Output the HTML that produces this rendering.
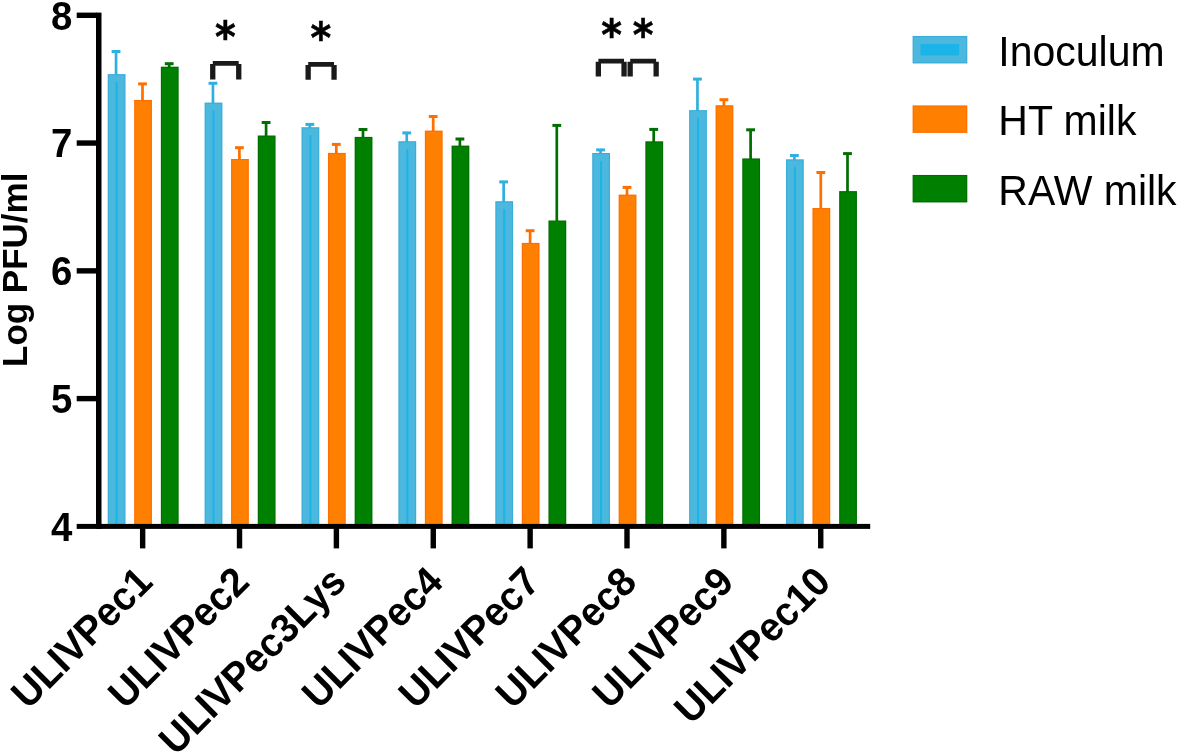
<!DOCTYPE html>
<html lang="en"><head><meta charset="utf-8"><title>Log PFU/ml chart</title>
<style>
html,body{margin:0;padding:0;background:#fff;}
body{width:1181px;height:754px;overflow:hidden;position:relative;}
svg{position:absolute;left:0;top:0;display:block;}
text{font-family:"Liberation Sans",sans-serif;fill:#000;}
.b{font-weight:bold;}
.tick{font-size:38.4px;font-weight:bold;}
.xl{font-size:38.75px;font-weight:bold;}
.yl{font-size:35.0px;font-weight:bold;}
.lg{font-size:41px;}
.star{font-family:"DejaVu Sans","Liberation Sans",sans-serif;font-weight:bold;font-size:39.6px;stroke:#000;stroke-width:0.5px;}
</style></head><body>
<svg width="1181" height="754" viewBox="0 0 1181 754">
<rect x="0" y="0" width="1181" height="754" fill="#ffffff"/>
<g id="bars">
<rect x="114.70" y="51.00" width="2.7" height="24.10" fill="#2fb0e0"/><rect x="111.65" y="50.00" width="8.8" height="3" fill="#2fb0e0"/><rect x="107.70" y="74.10" width="17.80" height="452.30" fill="#39adda"/><rect x="108.90" y="75.30" width="15.40" height="451.10" fill="#4db8de"/><rect x="115.60" y="81.90" width="2" height="444.50" fill="#1bb4e8"/>
<rect x="141.15" y="83.40" width="2.7" height="17.50" fill="#ff6f00"/><rect x="138.10" y="82.40" width="8.8" height="3" fill="#ff6f00"/><rect x="134.15" y="99.90" width="17.80" height="426.50" fill="#ff6f00"/><rect x="135.35" y="101.10" width="15.40" height="425.30" fill="#ff8000"/>
<rect x="167.85" y="63.20" width="2.7" height="4.50" fill="#006e00"/><rect x="164.80" y="62.20" width="8.8" height="3" fill="#006e00"/><rect x="160.85" y="66.70" width="17.80" height="459.70" fill="#006e00"/><rect x="162.05" y="67.90" width="15.40" height="458.50" fill="#008000"/>
<rect x="211.60" y="82.80" width="2.7" height="20.80" fill="#2fb0e0"/><rect x="208.55" y="81.80" width="8.8" height="3" fill="#2fb0e0"/><rect x="204.60" y="102.60" width="17.80" height="423.80" fill="#39adda"/><rect x="205.80" y="103.80" width="15.40" height="422.60" fill="#4db8de"/><rect x="212.50" y="110.40" width="2" height="416.00" fill="#1bb4e8"/>
<rect x="238.05" y="147.20" width="2.7" height="12.80" fill="#ff6f00"/><rect x="235.00" y="146.20" width="8.8" height="3" fill="#ff6f00"/><rect x="231.05" y="159.00" width="17.80" height="367.40" fill="#ff6f00"/><rect x="232.25" y="160.20" width="15.40" height="366.20" fill="#ff8000"/>
<rect x="264.75" y="122.00" width="2.7" height="14.50" fill="#006e00"/><rect x="261.70" y="121.00" width="8.8" height="3" fill="#006e00"/><rect x="257.75" y="135.50" width="17.80" height="390.90" fill="#006e00"/><rect x="258.95" y="136.70" width="15.40" height="389.70" fill="#008000"/>
<rect x="308.50" y="123.90" width="2.7" height="4.30" fill="#2fb0e0"/><rect x="305.45" y="122.90" width="8.8" height="3" fill="#2fb0e0"/><rect x="301.50" y="127.20" width="17.80" height="399.20" fill="#39adda"/><rect x="302.70" y="128.40" width="15.40" height="398.00" fill="#4db8de"/><rect x="309.40" y="135.00" width="2" height="391.40" fill="#1bb4e8"/>
<rect x="334.95" y="143.90" width="2.7" height="10.00" fill="#ff6f00"/><rect x="331.90" y="142.90" width="8.8" height="3" fill="#ff6f00"/><rect x="327.95" y="152.90" width="17.80" height="373.50" fill="#ff6f00"/><rect x="329.15" y="154.10" width="15.40" height="372.30" fill="#ff8000"/>
<rect x="361.65" y="129.00" width="2.7" height="8.90" fill="#006e00"/><rect x="358.60" y="128.00" width="8.8" height="3" fill="#006e00"/><rect x="354.65" y="136.90" width="17.80" height="389.50" fill="#006e00"/><rect x="355.85" y="138.10" width="15.40" height="388.30" fill="#008000"/>
<rect x="405.40" y="132.40" width="2.7" height="9.80" fill="#2fb0e0"/><rect x="402.35" y="131.40" width="8.8" height="3" fill="#2fb0e0"/><rect x="398.40" y="141.20" width="17.80" height="385.20" fill="#39adda"/><rect x="399.60" y="142.40" width="15.40" height="384.00" fill="#4db8de"/><rect x="406.30" y="149.00" width="2" height="377.40" fill="#1bb4e8"/>
<rect x="431.85" y="116.00" width="2.7" height="15.60" fill="#ff6f00"/><rect x="428.80" y="115.00" width="8.8" height="3" fill="#ff6f00"/><rect x="424.85" y="130.60" width="17.80" height="395.80" fill="#ff6f00"/><rect x="426.05" y="131.80" width="15.40" height="394.60" fill="#ff8000"/>
<rect x="458.55" y="138.50" width="2.7" height="8.10" fill="#006e00"/><rect x="455.50" y="137.50" width="8.8" height="3" fill="#006e00"/><rect x="451.55" y="145.60" width="17.80" height="380.80" fill="#006e00"/><rect x="452.75" y="146.80" width="15.40" height="379.60" fill="#008000"/>
<rect x="502.30" y="181.40" width="2.7" height="20.80" fill="#2fb0e0"/><rect x="499.25" y="180.40" width="8.8" height="3" fill="#2fb0e0"/><rect x="495.30" y="201.20" width="17.80" height="325.20" fill="#39adda"/><rect x="496.50" y="202.40" width="15.40" height="324.00" fill="#4db8de"/><rect x="503.20" y="209.00" width="2" height="317.40" fill="#1bb4e8"/>
<rect x="528.75" y="230.20" width="2.7" height="13.70" fill="#ff6f00"/><rect x="525.70" y="229.20" width="8.8" height="3" fill="#ff6f00"/><rect x="521.75" y="242.90" width="17.80" height="283.50" fill="#ff6f00"/><rect x="522.95" y="244.10" width="15.40" height="282.30" fill="#ff8000"/>
<rect x="555.45" y="124.90" width="2.7" height="96.60" fill="#006e00"/><rect x="552.40" y="123.90" width="8.8" height="3" fill="#006e00"/><rect x="548.45" y="220.50" width="17.80" height="305.90" fill="#006e00"/><rect x="549.65" y="221.70" width="15.40" height="304.70" fill="#008000"/>
<rect x="599.20" y="149.40" width="2.7" height="4.60" fill="#2fb0e0"/><rect x="596.15" y="148.40" width="8.8" height="3" fill="#2fb0e0"/><rect x="592.20" y="153.00" width="17.80" height="373.40" fill="#39adda"/><rect x="593.40" y="154.20" width="15.40" height="372.20" fill="#4db8de"/><rect x="600.10" y="160.80" width="2" height="365.60" fill="#1bb4e8"/>
<rect x="625.65" y="186.90" width="2.7" height="8.70" fill="#ff6f00"/><rect x="622.60" y="185.90" width="8.8" height="3" fill="#ff6f00"/><rect x="618.65" y="194.60" width="17.80" height="331.80" fill="#ff6f00"/><rect x="619.85" y="195.80" width="15.40" height="330.60" fill="#ff8000"/>
<rect x="652.35" y="128.90" width="2.7" height="13.40" fill="#006e00"/><rect x="649.30" y="127.90" width="8.8" height="3" fill="#006e00"/><rect x="645.35" y="141.30" width="17.80" height="385.10" fill="#006e00"/><rect x="646.55" y="142.50" width="15.40" height="383.90" fill="#008000"/>
<rect x="696.10" y="78.60" width="2.7" height="32.50" fill="#2fb0e0"/><rect x="693.05" y="77.60" width="8.8" height="3" fill="#2fb0e0"/><rect x="689.10" y="110.10" width="17.80" height="416.30" fill="#39adda"/><rect x="690.30" y="111.30" width="15.40" height="415.10" fill="#4db8de"/><rect x="697.00" y="117.90" width="2" height="408.50" fill="#1bb4e8"/>
<rect x="722.55" y="99.20" width="2.7" height="7.00" fill="#ff6f00"/><rect x="719.50" y="98.20" width="8.8" height="3" fill="#ff6f00"/><rect x="715.55" y="105.20" width="17.80" height="421.20" fill="#ff6f00"/><rect x="716.75" y="106.40" width="15.40" height="420.00" fill="#ff8000"/>
<rect x="749.25" y="129.30" width="2.7" height="30.10" fill="#006e00"/><rect x="746.20" y="128.30" width="8.8" height="3" fill="#006e00"/><rect x="742.25" y="158.40" width="17.80" height="368.00" fill="#006e00"/><rect x="743.45" y="159.60" width="15.40" height="366.80" fill="#008000"/>
<rect x="793.00" y="155.00" width="2.7" height="5.30" fill="#2fb0e0"/><rect x="789.95" y="154.00" width="8.8" height="3" fill="#2fb0e0"/><rect x="786.00" y="159.30" width="17.80" height="367.10" fill="#39adda"/><rect x="787.20" y="160.50" width="15.40" height="365.90" fill="#4db8de"/><rect x="793.90" y="167.10" width="2" height="359.30" fill="#1bb4e8"/>
<rect x="819.45" y="172.00" width="2.7" height="37.00" fill="#ff6f00"/><rect x="816.40" y="171.00" width="8.8" height="3" fill="#ff6f00"/><rect x="812.45" y="208.00" width="17.80" height="318.40" fill="#ff6f00"/><rect x="813.65" y="209.20" width="15.40" height="317.20" fill="#ff8000"/>
<rect x="846.15" y="153.10" width="2.7" height="39.00" fill="#006e00"/><rect x="843.10" y="152.10" width="8.8" height="3" fill="#006e00"/><rect x="839.15" y="191.10" width="17.80" height="335.30" fill="#006e00"/><rect x="840.35" y="192.30" width="15.40" height="334.10" fill="#008000"/>
</g>
<g id="axes" fill="#000">
<rect x="96" y="12.6" width="5.5" height="516.3"/>
<rect x="76.7" y="523.9" width="793.5" height="5"/>
<rect x="76.7" y="12.60" width="20" height="5.4"/>
<rect x="76.7" y="140.35" width="20" height="5.4"/>
<rect x="76.7" y="268.15" width="20" height="5.4"/>
<rect x="76.7" y="395.90" width="20" height="5.4"/>
<rect x="139.95" y="528" width="5.4" height="20.4"/>
<rect x="236.82" y="528" width="5.4" height="20.4"/>
<rect x="333.69" y="528" width="5.4" height="20.4"/>
<rect x="430.56" y="528" width="5.4" height="20.4"/>
<rect x="527.43" y="528" width="5.4" height="20.4"/>
<rect x="624.30" y="528" width="5.4" height="20.4"/>
<rect x="721.17" y="528" width="5.4" height="20.4"/>
<rect x="818.04" y="528" width="5.4" height="20.4"/>
</g>
<g id="yticks">
<text class="tick" text-anchor="end" transform="translate(72.4,29.55) scale(1,1.04)">8</text>
<text class="tick" text-anchor="end" transform="translate(72.4,157.30) scale(1,1.04)">7</text>
<text class="tick" text-anchor="end" transform="translate(72.4,285.10) scale(1,1.04)">6</text>
<text class="tick" text-anchor="end" transform="translate(72.4,412.85) scale(1,1.04)">5</text>
<text class="tick" text-anchor="end" transform="translate(72.4,540.65) scale(1,1.04)">4</text>
</g>
<text class="yl" transform="translate(27.3,367.0) rotate(-90) scale(1,1.025)">Log PFU/ml</text>
<g id="xlabels">
<text class="xl" text-anchor="end" transform="translate(154.45,584.10) rotate(-45) scale(1,1.04)">ULIVPec1</text>
<text class="xl" text-anchor="end" transform="translate(251.32,584.10) rotate(-45) scale(1,1.04)">ULIVPec2</text>
<text class="xl" text-anchor="end" transform="translate(348.19,584.10) rotate(-45) scale(1,1.04)">ULIVPec3Lys</text>
<text class="xl" text-anchor="end" transform="translate(445.06,584.10) rotate(-45) scale(1,1.04)">ULIVPec4</text>
<text class="xl" text-anchor="end" transform="translate(541.93,584.10) rotate(-45) scale(1,1.04)">ULIVPec7</text>
<text class="xl" text-anchor="end" transform="translate(638.80,584.10) rotate(-45) scale(1,1.04)">ULIVPec8</text>
<text class="xl" text-anchor="end" transform="translate(735.67,584.10) rotate(-45) scale(1,1.04)">ULIVPec9</text>
<text class="xl" text-anchor="end" transform="translate(832.54,584.10) rotate(-45) scale(1,1.04)">ULIVPec10</text>
</g>
<g id="sig" fill="#1a1a1a">
<polygon points="210.10,79.50 210.10,64.00 212.80,64.00 212.80,61.00 238.70,61.00 238.70,64.00 241.40,64.00 241.40,79.50 236.10,79.50 236.10,65.70 215.40,65.70 215.40,79.50"/>
<polygon points="305.50,79.70 305.50,65.00 308.20,65.00 308.20,62.00 334.00,62.00 334.00,65.00 336.70,65.00 336.70,79.70 331.40,79.70 331.40,66.70 310.80,66.70 310.80,79.70"/>
<polygon points="595.70,76.60 595.70,61.70 598.40,61.70 598.40,58.70 624.00,58.70 624.00,61.70 626.70,61.70 626.70,76.60 621.40,76.60 621.40,63.40 601.00,63.40 601.00,76.60"/>
<polygon points="627.50,76.60 627.50,61.70 630.20,61.70 630.20,58.70 656.10,58.70 656.10,61.70 658.80,61.70 658.80,76.60 653.50,76.60 653.50,63.40 632.80,63.40 632.80,76.60"/>
</g>
<text class="star" text-anchor="middle" transform="translate(225.40,51.90) scale(1,1.07)" x="0" y="0">*</text>
<text class="star" text-anchor="middle" transform="translate(320.90,52.70) scale(1,1.07)" x="0" y="0">*</text>
<text class="star" text-anchor="middle" transform="translate(611.50,49.70) scale(1,1.07)" x="0" y="0">*</text>
<text class="star" text-anchor="middle" transform="translate(643.10,49.70) scale(1,1.07)" x="0" y="0">*</text>
<g id="legend">
<rect x="912.6" y="35.95" width="54.7" height="27.5" fill="#39adda"/>
<rect x="913.80" y="37.15" width="52.30" height="25.10" fill="#4db8de"/>
<rect x="920.5" y="44.00" width="38.6" height="11.5" fill="#1bb4e8"/>
<text class="lg" transform="translate(998.3,65.90) scale(1,1.05)">Inoculum</text>
<rect x="912.6" y="105.40" width="54.7" height="27.5" fill="#ff6f00"/>
<rect x="913.80" y="106.60" width="52.30" height="25.10" fill="#ff8000"/>
<text class="lg" transform="translate(998.3,135.35) scale(1,1.05)">HT milk</text>
<rect x="912.6" y="174.95" width="54.7" height="27.5" fill="#006e00"/>
<rect x="913.80" y="176.15" width="52.30" height="25.10" fill="#008000"/>
<text class="lg" transform="translate(998.3,204.90) scale(1,1.05)">RAW milk</text>
</g>
</svg></body></html>
